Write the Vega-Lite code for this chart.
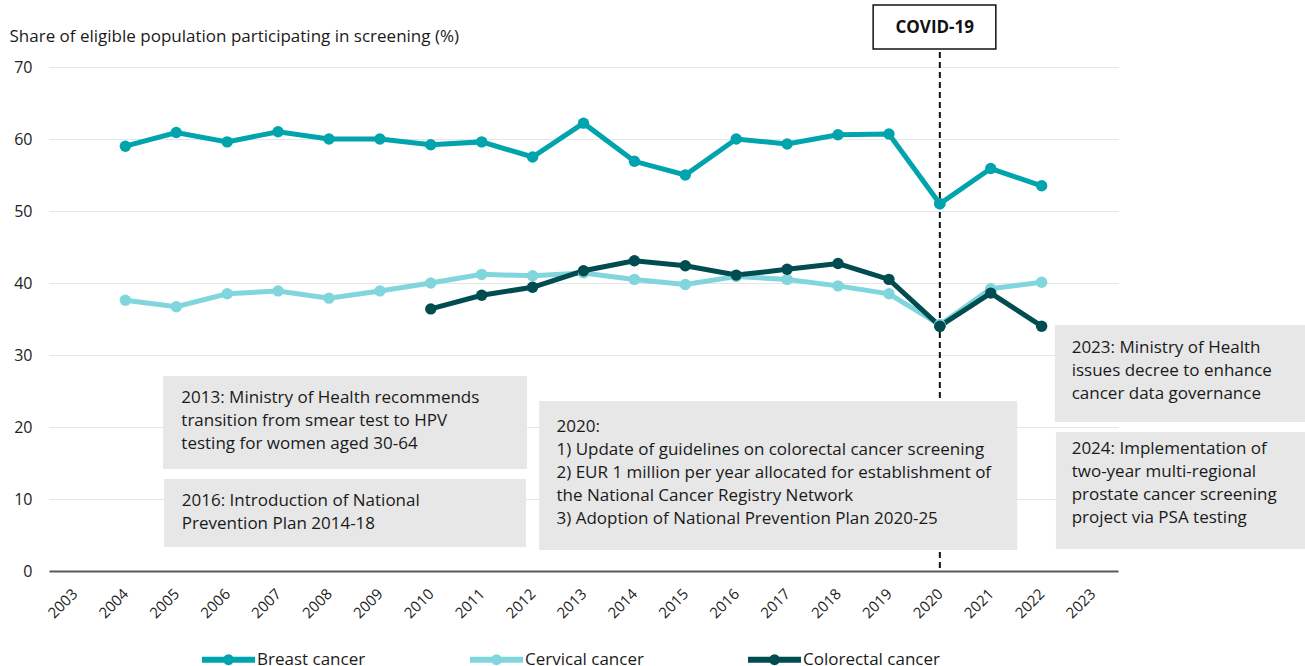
{
  "$schema": "https://vega.github.io/schema/vega-lite/v6.json",
  "width": 1069,
  "height": 504,
  "autosize": "none",
  "padding": {"left": 49, "top": 67, "right": 187, "bottom": 95},
  "background": "white",
  "config": {
    "font": "Open Sans",
    "view": {"stroke": null},
    "axisX": {
      "labelFont": "Open Sans",
      "labelAngle": -45,
      "labelFontSize": 15,
      "labelColor": "#222222",
      "labelPadding": 20,
      "labelAlign": "right",
      "labelBaseline": "middle",
      "grid": false,
      "ticks": false,
      "domain": true,
      "domainColor": "#5a5a5a",
      "domainWidth": 2
    },
    "axisY": {
      "labelFont": "Open Sans",
      "titleFont": "Open Sans",
      "labelFontSize": 16,
      "labelColor": "#222222",
      "labelPadding": 17,
      "grid": true,
      "gridColor": "#e6e6e6",
      "gridWidth": 1,
      "ticks": false,
      "domain": false
    },
    "legend": {"labelFont": "Open Sans"}
  },
  "datasets": {
    "screening": [
      {"year": 2004, "type": "Breast cancer", "value": 59.0},
      {"year": 2005, "type": "Breast cancer", "value": 60.9},
      {"year": 2006, "type": "Breast cancer", "value": 59.6},
      {"year": 2007, "type": "Breast cancer", "value": 61.0},
      {"year": 2008, "type": "Breast cancer", "value": 60.0},
      {"year": 2009, "type": "Breast cancer", "value": 60.0},
      {"year": 2010, "type": "Breast cancer", "value": 59.2},
      {"year": 2011, "type": "Breast cancer", "value": 59.6},
      {"year": 2012, "type": "Breast cancer", "value": 57.5},
      {"year": 2013, "type": "Breast cancer", "value": 62.2},
      {"year": 2014, "type": "Breast cancer", "value": 56.9},
      {"year": 2015, "type": "Breast cancer", "value": 55.0},
      {"year": 2016, "type": "Breast cancer", "value": 60.0},
      {"year": 2017, "type": "Breast cancer", "value": 59.3},
      {"year": 2018, "type": "Breast cancer", "value": 60.6},
      {"year": 2019, "type": "Breast cancer", "value": 60.7},
      {"year": 2020, "type": "Breast cancer", "value": 51.0},
      {"year": 2021, "type": "Breast cancer", "value": 55.9},
      {"year": 2022, "type": "Breast cancer", "value": 53.5},
      {"year": 2004, "type": "Cervical cancer", "value": 37.6},
      {"year": 2005, "type": "Cervical cancer", "value": 36.7},
      {"year": 2006, "type": "Cervical cancer", "value": 38.5},
      {"year": 2007, "type": "Cervical cancer", "value": 38.9},
      {"year": 2008, "type": "Cervical cancer", "value": 37.9},
      {"year": 2009, "type": "Cervical cancer", "value": 38.9},
      {"year": 2010, "type": "Cervical cancer", "value": 40.0},
      {"year": 2011, "type": "Cervical cancer", "value": 41.2},
      {"year": 2012, "type": "Cervical cancer", "value": 41.0},
      {"year": 2013, "type": "Cervical cancer", "value": 41.4},
      {"year": 2014, "type": "Cervical cancer", "value": 40.5},
      {"year": 2015, "type": "Cervical cancer", "value": 39.8},
      {"year": 2016, "type": "Cervical cancer", "value": 40.9},
      {"year": 2017, "type": "Cervical cancer", "value": 40.5},
      {"year": 2018, "type": "Cervical cancer", "value": 39.6},
      {"year": 2019, "type": "Cervical cancer", "value": 38.5},
      {"year": 2020, "type": "Cervical cancer", "value": 34.2},
      {"year": 2021, "type": "Cervical cancer", "value": 39.2},
      {"year": 2022, "type": "Cervical cancer", "value": 40.1},
      {"year": 2010, "type": "Colorectal cancer", "value": 36.4},
      {"year": 2011, "type": "Colorectal cancer", "value": 38.3},
      {"year": 2012, "type": "Colorectal cancer", "value": 39.4},
      {"year": 2013, "type": "Colorectal cancer", "value": 41.7},
      {"year": 2014, "type": "Colorectal cancer", "value": 43.1},
      {"year": 2015, "type": "Colorectal cancer", "value": 42.4},
      {"year": 2016, "type": "Colorectal cancer", "value": 41.1},
      {"year": 2017, "type": "Colorectal cancer", "value": 41.9},
      {"year": 2018, "type": "Colorectal cancer", "value": 42.7},
      {"year": 2019, "type": "Colorectal cancer", "value": 40.5},
      {"year": 2020, "type": "Colorectal cancer", "value": 34.0},
      {"year": 2021, "type": "Colorectal cancer", "value": 38.6},
      {"year": 2022, "type": "Colorectal cancer", "value": 34.0}
    ],
    "notes": [
      {"from": 2004.74, "to": 2011.89, "top": 27.08, "bottom": 14.17, "tx": 2005.10, "ty": 23.33, "text": ["2013: Ministry of Health recommends", "transition from smear test to HPV", "testing for women aged 30-64"]},
      {"from": 2004.76, "to": 2011.87, "top": 12.78, "bottom": 3.33, "tx": 2005.11, "ty": 9.03, "text": ["2016: Introduction of National", "Prevention Plan 2014-18"]},
      {"from": 2012.13, "to": 2021.52, "top": 23.61, "bottom": 2.92, "tx": 2012.47, "ty": 19.35, "text": ["2020:", "1) Update of guidelines on colorectal cancer screening", "2) EUR 1 million per year allocated for establishment of", "the National Cancer Registry Network", "3) Adoption of National Prevention Plan 2020-25"]},
      {"from": 2022.26, "to": 2027.2, "top": 34.17, "bottom": 20.69, "tx": 2022.59, "ty": 30.32, "text": ["2023: Ministry of Health", "issues decree to enhance", "cancer data governance"]},
      {"from": 2022.28, "to": 2027.2, "top": 19.31, "bottom": 3.06, "tx": 2022.59, "ty": 16.2, "text": ["2024: Implementation of", "two-year multi-regional", "prostate cancer screening", "project via PSA testing"]}
    ],
    "covid": [
      {"year": 2020, "from": 2018.69, "to": 2021.10, "top": 78.6, "bottom": 72.5, "lineTop": 72.1, "lineBottom": 0, "tx": 2019.9, "ty": 75.4, "text": "COVID-19"}
    ]
  },
  "layer": [
    {
      "data": {"name": "screening"},
      "mark": {"type": "line", "strokeWidth": 5, "clip": false},
      "encoding": {
        "x": {
          "field": "year",
          "type": "quantitative",
          "scale": {"domain": [2002.5, 2023.5], "nice": false, "zero": false},
          "axis": {
            "title": null,
            "values": [2003, 2004, 2005, 2006, 2007, 2008, 2009, 2010, 2011, 2012, 2013, 2014, 2015, 2016, 2017, 2018, 2019, 2020, 2021, 2022, 2023],
            "format": "d",
            "labelAngle": -45,
            "labelFontSize": 15,
            "labelAlign": "right",
            "labelBaseline": "middle",
            "labelPadding": 20,
            "labelOverlap": false,
            "encode": {
              "labels": {
                "update": {
                  "angle": {"value": -45},
                  "fontSize": {"value": 15},
                  "align": {"value": "right"},
                  "baseline": {"value": "middle"}
                }
              }
            }
          }
        },
        "y": {
          "field": "value",
          "type": "quantitative",
          "scale": {"domain": [0, 70], "nice": false},
          "axis": {
            "title": "Share of eligible population participating in screening (%)",
            "titleAngle": 0,
            "titleAlign": "left",
            "titleBaseline": "alphabetic",
            "titleX": -40,
            "titleY": -26,
            "titleFontSize": 17,
            "titleFontWeight": "normal",
            "titleColor": "#1a1a1a",
            "values": [0, 10, 20, 30, 40, 50, 60, 70]
          }
        },
        "color": {
          "field": "type",
          "type": "nominal",
          "scale": {"domain": ["Breast cancer", "Cervical cancer", "Colorectal cancer"], "range": ["#00a4ad", "#80d6dc", "#004c51"]},
          "legend": {
            "title": null,
            "orient": "none",
            "legendX": 153,
            "legendY": 566,
            "direction": "horizontal",
            "columnPadding": 104,
            "labelFontSize": 17,
            "labelColor": "#1a1a1a",
            "labelOffset": 2,
            "symbolType": "M-1,-0.113L1,-0.113L1,0.113L-1,0.113Z M0.21,0L0.182,0.105L0.105,0.182L0,0.21L-0.105,0.182L-0.182,0.105L-0.21,0L-0.182,-0.105L-0.105,-0.182L0,-0.21L0.105,-0.182L0.182,-0.105Z",
            "symbolSize": 2809,
            "symbolStrokeWidth": 0,
            "symbolOpacity": 1
          }
        }
      }
    },
    {
      "data": {"name": "screening"},
      "mark": {"type": "point", "filled": true, "size": 130, "opacity": 1, "clip": false},
      "encoding": {
        "x": {"field": "year", "type": "quantitative"},
        "y": {"field": "value", "type": "quantitative"},
        "color": {"field": "type", "type": "nominal"}
      }
    },
    {
      "data": {"name": "covid"},
      "mark": {"type": "rule", "strokeDash": [6, 4], "strokeWidth": 2, "color": "#111111", "clip": false},
      "encoding": {
        "x": {"field": "year", "type": "quantitative"},
        "y": {"field": "lineTop", "type": "quantitative"},
        "y2": {"field": "lineBottom"}
      }
    },
    {
      "data": {"name": "screening"},
      "transform": [{"filter": "datum.year == 2020"}],
      "mark": {"type": "point", "filled": true, "size": 130, "opacity": 1, "clip": false},
      "encoding": {
        "x": {"field": "year", "type": "quantitative"},
        "y": {"field": "value", "type": "quantitative"},
        "color": {"field": "type", "type": "nominal"}
      }
    },
    {
      "data": {"name": "notes"},
      "mark": {"type": "rect", "fill": "#e7e7e7", "clip": false},
      "encoding": {
        "x": {"field": "from", "type": "quantitative"},
        "x2": {"field": "to"},
        "y": {"field": "top", "type": "quantitative"},
        "y2": {"field": "bottom"}
      }
    },
    {
      "data": {"name": "notes"},
      "mark": {"type": "text", "align": "left", "baseline": "alphabetic", "fontSize": 17, "fontWeight": "normal", "lineHeight": 23, "fill": "#1a1a1a", "clip": false},
      "encoding": {
        "x": {"field": "tx", "type": "quantitative"},
        "y": {"field": "ty", "type": "quantitative"},
        "text": {"field": "text"}
      }
    },
    {
      "data": {"name": "covid"},
      "mark": {"type": "rect", "fill": "white", "stroke": "#111111", "strokeWidth": 1.5, "clip": false},
      "encoding": {
        "x": {"field": "from", "type": "quantitative"},
        "x2": {"field": "to"},
        "y": {"field": "top", "type": "quantitative"},
        "y2": {"field": "bottom"}
      }
    },
    {
      "data": {"name": "covid"},
      "mark": {"type": "text", "align": "center", "baseline": "middle", "fontSize": 17, "fontWeight": "bold", "fill": "#111111", "clip": false},
      "encoding": {
        "x": {"field": "tx", "type": "quantitative"},
        "y": {"field": "ty", "type": "quantitative"},
        "text": {"field": "text"}
      }
    }
  ]
}
